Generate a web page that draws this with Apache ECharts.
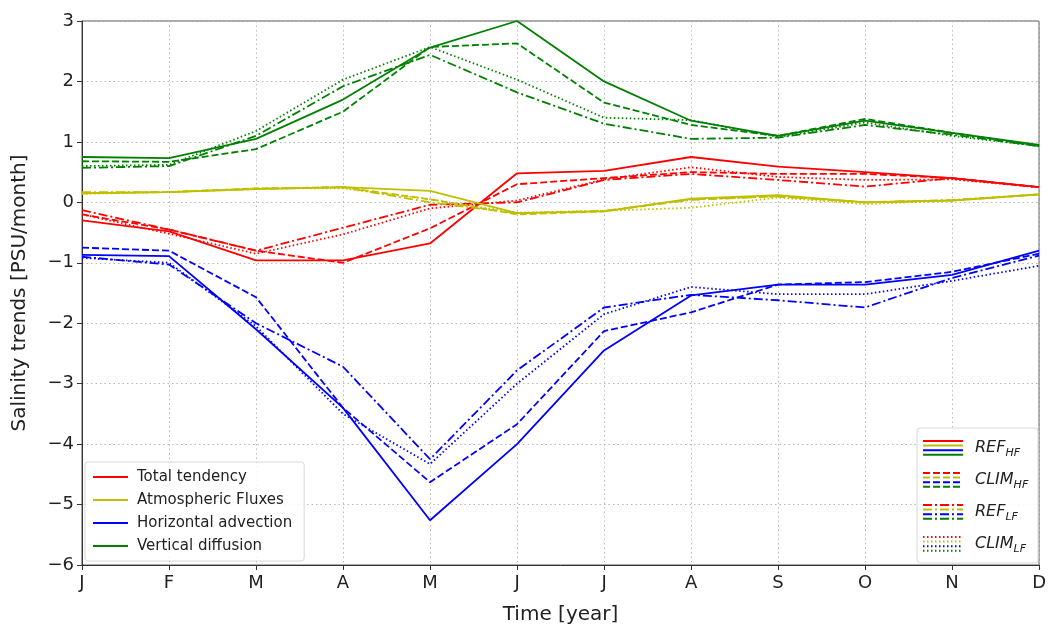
<!DOCTYPE html>
<html>
<head>
<meta charset="utf-8">
<script src="https://cdn.jsdelivr.net/npm/echarts@6/dist/echarts.min.js"></script>
<style>html,body{margin:0;padding:0;background:#fff}#c{width:1049px;height:630px}</style>
</head>
<body>
<div id="c"></div>
<script>
const months = ['J','F','M','A','M','J','J','A','S','O','N','D'];
const variables = ['Total tendency','Atmospheric Fluxes','Horizontal advection','Vertical diffusion'];
const experiments = ['REF_HF','CLIM_HF','REF_LF','CLIM_LF'];

// Total tendency
const total_REF_HF  = [-0.30,-0.48,-0.96,-0.96,-0.68, 0.48, 0.52, 0.75, 0.59, 0.50, 0.40, 0.25];
const total_CLIM_HF = [-0.20,-0.45,-0.80,-1.00,-0.43, 0.30, 0.40, 0.50, 0.47, 0.47, 0.40, 0.25];
const total_REF_LF  = [-0.13,-0.45,-0.80,-0.42,-0.04, 0.00, 0.37, 0.47, 0.37, 0.26, 0.40, 0.25];
const total_CLIM_LF = [-0.20,-0.52,-0.85,-0.53,-0.10, 0.03, 0.38, 0.58, 0.42, 0.37, 0.38, 0.25];
// Atmospheric fluxes
const atm_REF_HF  = [0.15,0.17,0.22,0.25,0.19,-0.18,-0.15, 0.06,0.12,0.00,0.03,0.13];
const atm_CLIM_HF = [0.15,0.17,0.23,0.25,0.05,-0.20,-0.15, 0.05,0.10,0.00,0.03,0.13];
const atm_REF_LF  = [0.17,0.17,0.22,0.25,0.00,-0.18,-0.14, 0.04,0.10,0.00,0.04,0.13];
const atm_CLIM_LF = [0.14,0.17,0.23,0.23,0.05,-0.17,-0.14,-0.09,0.08,-0.03,0.03,0.13];
// Horizontal advection
const hadv_REF_HF  = [-0.87,-0.89,-2.10,-3.40,-5.26,-4.00,-2.45,-1.54,-1.36,-1.36,-1.20,-0.80];
const hadv_CLIM_HF = [-0.75,-0.80,-1.57,-3.40,-4.63,-3.67,-2.13,-1.82,-1.36,-1.32,-1.15,-0.85];
const hadv_REF_LF  = [-0.90,-1.03,-2.00,-2.72,-4.25,-2.78,-1.74,-1.53,-1.62,-1.74,-1.25,-0.88];
const hadv_CLIM_LF = [-0.92,-1.00,-2.05,-3.50,-4.33,-3.00,-1.85,-1.40,-1.52,-1.52,-1.30,-1.05];
// Vertical diffusion
const vdif_REF_HF  = [0.75,0.73,1.05,1.70,2.56,3.00,2.00,1.35,1.10,1.35,1.15,0.95];
const vdif_CLIM_HF = [0.68,0.67,0.88,1.50,2.57,2.63,1.65,1.28,1.10,1.38,1.15,0.93];
const vdif_REF_LF  = [0.57,0.60,1.10,1.92,2.44,1.82,1.30,1.05,1.07,1.28,1.12,0.93];
const vdif_CLIM_LF = [0.60,0.62,1.18,2.03,2.57,2.03,1.40,1.36,1.08,1.32,1.10,0.93];

const yTicks = [-6,-5,-4,-3,-2,-1,0,1,2,3];

const colors = ['#ff0000','#bfbf00','#0000ff','#008000'];
const dashes = ['solid',[7,3],[9,3,2,3],[1.5,2.5]];
const dataSets = [
  [total_REF_HF,total_CLIM_HF,total_REF_LF,total_CLIM_LF],
  [atm_REF_HF,atm_CLIM_HF,atm_REF_LF,atm_CLIM_LF],
  [hadv_REF_HF,hadv_CLIM_HF,hadv_REF_LF,hadv_CLIM_LF],
  [vdif_REF_HF,vdif_CLIM_HF,vdif_REF_LF,vdif_CLIM_LF]
];

const series = [];
dataSets.forEach((group, vi) => {
  group.forEach((arr, ei) => {
    series.push({
      name: variables[vi] + ' ' + experiments[ei],
      type: 'line',
      data: arr.map((v, i) => [i, v]),
      showSymbol: false,
      silent: true,
      lineStyle: {color: colors[vi], width: 1.8, type: dashes[ei]},
      itemStyle: {color: colors[vi]},
      z: 3
    });
  });
});
variables.forEach((name, vi) => {
  series.push({name: name, type: 'line', data: [], itemStyle: {color: colors[vi]}, lineStyle: {color: colors[vi]}});
});

const FONT = 'DejaVu Sans';
const minus = s => String(s).replace('-', '\u2212');

// right legend graphic
const legG = [];
legG.push({type: 'rect', shape: {x: 917, y: 428, width: 121, height: 135, r: 3},
  style: {fill: 'rgba(255,255,255,0.85)', stroke: '#d8d8d8', lineWidth: 1}, z: 10});
const entryTop = [441, 473, 505, 537];
experiments.forEach((exp, ei) => {
  colors.forEach((c, ci) => {
    const y = entryTop[ei] + ci * 4.6;
    legG.push({type: 'line', shape: {x1: 923, y1: y, x2: 963, y2: y},
      style: {stroke: c, lineWidth: 2, lineDash: dashes[ei] === 'solid' ? null : dashes[ei]}, z: 11});
  });
  const parts = exp.split('_');
  legG.push({type: 'text', x: 975, y: entryTop[ei] + 7, z: 11,
    style: {text: '{a|' + parts[0] + '}{b|' + parts[1] + '}', verticalAlign: 'middle',
      rich: {a: {fontFamily: FONT, fontStyle: 'italic', fontSize: 16, fill: '#222'},
             b: {fontFamily: FONT, fontStyle: 'italic', fontSize: 11, fill: '#222', padding: [10,0,0,0]}}}});
});

const chart = echarts.init(document.getElementById('c'));
chart.setOption({
  animation: false,
  backgroundColor: '#fff',
  grid: {left: 82, right: 7, top: 21, bottom: 60, show: true, borderColor: '#555', borderWidth: 1},
  xAxis: {
    type: 'value', min: 0, max: 11, interval: 1,
    name: 'Time [year]', nameLocation: 'middle', nameGap: 40,
    nameTextStyle: {fontFamily: FONT, fontSize: 20, color: '#222'},
    axisLine: {show: true, onZero: false, lineStyle: {color: '#333', width: 1}},
    axisTick: {show: true, length: 5, lineStyle: {color: '#333'}},
    axisLabel: {fontFamily: FONT, fontSize: 18, color: '#222', margin: 9,
      formatter: v => months[v]},
    splitLine: {show: true, lineStyle: {color: '#b8b8b8', type: [1.5, 3], width: 1}}
  },
  yAxis: {
    type: 'value', min: -6, max: 3, interval: 1,
    name: 'Salinity trends [PSU/month]', nameLocation: 'middle', nameGap: 52,
    nameTextStyle: {fontFamily: FONT, fontSize: 20, color: '#222'},
    axisLine: {show: true, onZero: false, lineStyle: {color: '#333', width: 1}},
    axisTick: {show: true, length: 5, lineStyle: {color: '#333'}},
    axisLabel: {fontFamily: FONT, fontSize: 18, color: '#222', margin: 8,
      formatter: v => minus(yTicks[yTicks.indexOf(v)])},
    splitLine: {show: true, lineStyle: {color: '#b8b8b8', type: [1.5, 3], width: 1}}
  },
  legend: {
    data: variables, orient: 'vertical', left: 85, top: 462,
    padding: [7, 12, 7, 8], itemGap: 7, itemWidth: 35, itemHeight: 2, icon: 'rect',
    selectedMode: false,
    backgroundColor: 'rgba(255,255,255,0.85)', borderColor: '#d8d8d8', borderWidth: 1, borderRadius: 3,
    textStyle: {fontFamily: FONT, fontSize: 15, color: '#222', lineHeight: 16, padding: [0,0,0,4]}
  },
  graphic: legG,
  series: series
});
</script>
</body>
</html>
